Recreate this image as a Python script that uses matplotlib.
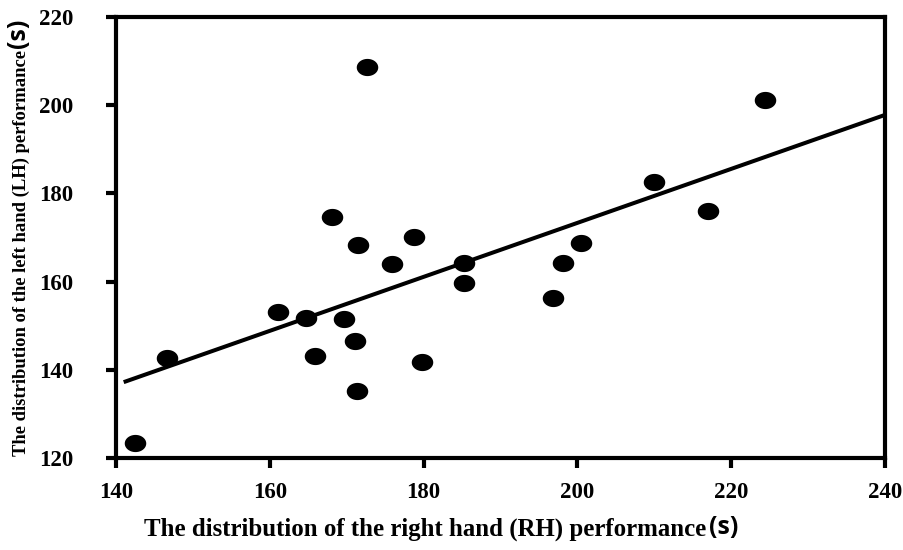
import numpy as np
import matplotlib
matplotlib.use("Agg")
import matplotlib.pyplot as plt

# right hand (x) vs left hand (y) performance, seconds
rh_time = [142.5, 146.6, 161.1, 164.7, 165.9, 169.6, 168.1, 171.5, 171.1, 171.4,
           172.6, 175.9, 178.8, 179.8, 185.3, 185.2, 196.8, 198.1, 200.5, 209.9,
           217.0, 224.4]
lh_time = [123.4, 142.7, 153.1, 151.7, 143.1, 151.5, 174.6, 168.3, 146.5, 135.2,
           208.7, 164.0, 170.1, 141.8, 164.2, 159.7, 156.3, 164.2, 168.8, 182.6,
           176.0, 201.2]

# trend line end points
trend_x = [141.0, 240.0]
trend_y = [137.2, 197.8]

x_ticks = [140, 160, 180, 200, 220, 240]
y_ticks = [120, 140, 160, 180, 200, 220]

W, H = 904, 550
fig = plt.figure(figsize=(W / 100, H / 100), dpi=100)
ax = fig.add_axes([116 / W, 1 - 458 / H, (885 - 116) / W, (458 - 17) / H])

# slightly flattened dot, like the original markers
t = np.linspace(0, 2 * np.pi, 40)
dot = np.column_stack([np.cos(t), 0.8 * np.sin(t)])

ax.plot(trend_x, trend_y, color='black', linewidth=2.9, solid_capstyle='butt', zorder=2)
ax.plot(rh_time, lh_time, linestyle='none', marker=dot, markersize=15.5,
        markeredgewidth=0, color='black', zorder=3)

ax.set_xlim(140, 240)
ax.set_ylim(120, 220)
ax.set_xticks(x_ticks)
ax.set_yticks(y_ticks)

serif = 'Liberation Serif'
ax.set_xticklabels([str(v) for v in x_ticks], fontfamily=serif, fontweight='bold', fontsize=16.5)
ax.set_yticklabels([str(v) for v in y_ticks], fontfamily=serif, fontweight='bold', fontsize=16.5)
ax.tick_params(axis='x', direction='out', length=7, width=3, pad=10)
ax.tick_params(axis='y', direction='out', length=7, width=3, pad=24)

for s in ax.spines.values():
    s.set_linewidth(3)
    s.set_color('black')

# axis titles: serif part plus a sans "(s)" suffix
fig.text(706 / W, 1 - 529 / H, 'The distribution of the right hand (RH) performance',
         ha='right', va='center', fontfamily=serif, fontweight='bold', fontsize=17.9)
fig.text(709 / W, 1 - 527 / H, '(s)', ha='left', va='center',
         fontfamily='Open Sans', fontweight='bold', fontsize=18)

fig.text(21 / W, 1 - 50 / H, 'The distribution of the left hand (LH) performance',
         rotation=90, ha='center', va='top', fontfamily=serif, fontweight='bold', fontsize=13.4)
fig.text(19 / W, 1 - 48 / H, '(s)', rotation=90, ha='center', va='bottom',
         fontfamily='Open Sans', fontweight='bold', fontsize=18)

fig.savefig('out.png', dpi=100, facecolor='white')
